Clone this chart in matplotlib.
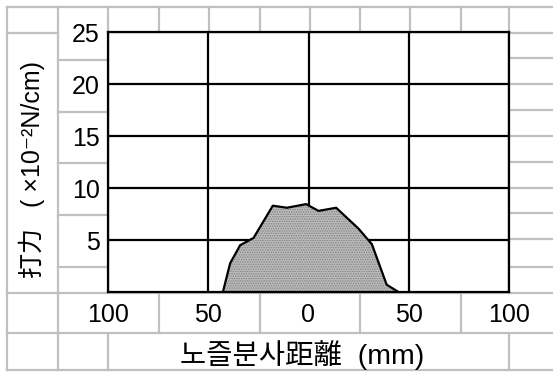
import numpy as np
import matplotlib
matplotlib.use('Agg')
from matplotlib import pyplot as plt
from matplotlib.lines import Line2D

# nozzle spray distance (mm) vs. impact force (x10^-2 N/cm)
dist = [-42.7, -39.1, -34.1, -27.4, -17.8, -10.8, -1.2, 5.0, 13.8, 24.9, 31.6, 39.0, 44.9]
force = [0.0, 2.75, 4.5, 5.2, 8.3, 8.1, 8.45, 7.8, 8.1, 6.1, 4.6, 0.7, 0.0]

x_ticks = [-100, -50, 0, 50, 100]
x_tick_labels = ['100', '50', '0', '50', '100']
y_ticks = [5, 10, 15, 20, 25]
y_tick_labels = ['5', '10', '15', '20', '25']

x_label = '노즐분사距離  (mm)'
y_label = '打力   ( ×10⁻²N/cm)'

W, H = 553, 372
fonts = ['Liberation Sans', 'Noto Sans CJK KR', 'DejaVu Sans']
plt.rcParams['font.family'] = fonts
plt.rcParams['hatch.linewidth'] = 0.7
plt.rcParams['hatch.color'] = '#808080'

fig = plt.figure(figsize=(W / 100, H / 100), dpi=100)
fig.patch.set_facecolor('white')

def px(x, y):
    return x / W, 1 - y / H

def hline(y, x0, x1):
    (a, b), (c, d) = px(x0, y), px(x1, y)
    fig.add_artist(Line2D([a, c], [b, d], transform=fig.transFigure,
                          color='#c0c0c0', lw=1.6, zorder=0.5))

def vline(x, y0, y1):
    (a, b), (c, d) = px(x, y0), px(x, y1)
    fig.add_artist(Line2D([a, c], [b, d], transform=fig.transFigure,
                          color='#c0c0c0', lw=1.6, zorder=0.5))

# spreadsheet cell borders behind the chart
hline(7, 7, 553)
hline(33, 7, 58)
hline(33, 509, 553)
for y in [60, 112, 163, 215, 267]:
    hline(y, 58, 108)
for y in [58, 84, 110, 136, 162, 188, 213, 239, 267]:
    hline(y, 509, 553)
for y in [293, 333, 370]:
    hline(y, 7, 553)
vline(7, 7, 370)
vline(58, 7, 370)
for x in [108, 159, 209, 260, 310, 360, 410, 461, 509]:
    vline(x, 7, 33)
for x in [159, 260, 360, 461]:
    vline(x, 293, 333)
for x in [108, 509]:
    vline(x, 333, 370)

x0, y0 = px(108, 292)
x1, y1 = px(509, 32)
ax = fig.add_axes([x0, y0, x1 - x0, y1 - y0])
ax.set_zorder(1)
ax.set_facecolor('white')

ax.fill_between(dist, force, 0, facecolor='#bcbcbc', hatch='.......',
                edgecolor='#808080', linewidth=0, zorder=2)
ax.plot(dist, force, color='black', lw=1.6, zorder=3)

ax.set_xlim(-100, 100)
ax.set_ylim(0, 25)
ax.set_xticks(x_ticks, x_tick_labels, fontsize=18)
ax.set_yticks(y_ticks, y_tick_labels, fontsize=18)
ax.tick_params(length=0)
ax.tick_params(axis='x', pad=8)
ax.tick_params(axis='y', pad=6)
ax.grid(True, color='black', lw=1.6, zorder=1)
ax.set_axisbelow(True)
for s in ax.spines.values():
    s.set_linewidth(1.6)
    s.set_color('black')

fig.text(*px(302, 355), x_label, fontsize=20.5, ha='center', va='center')
fig.text(*px(32, 170), y_label, fontsize=18, ha='center', va='center',
         rotation=90)

fig.savefig('out.png', dpi=100)
